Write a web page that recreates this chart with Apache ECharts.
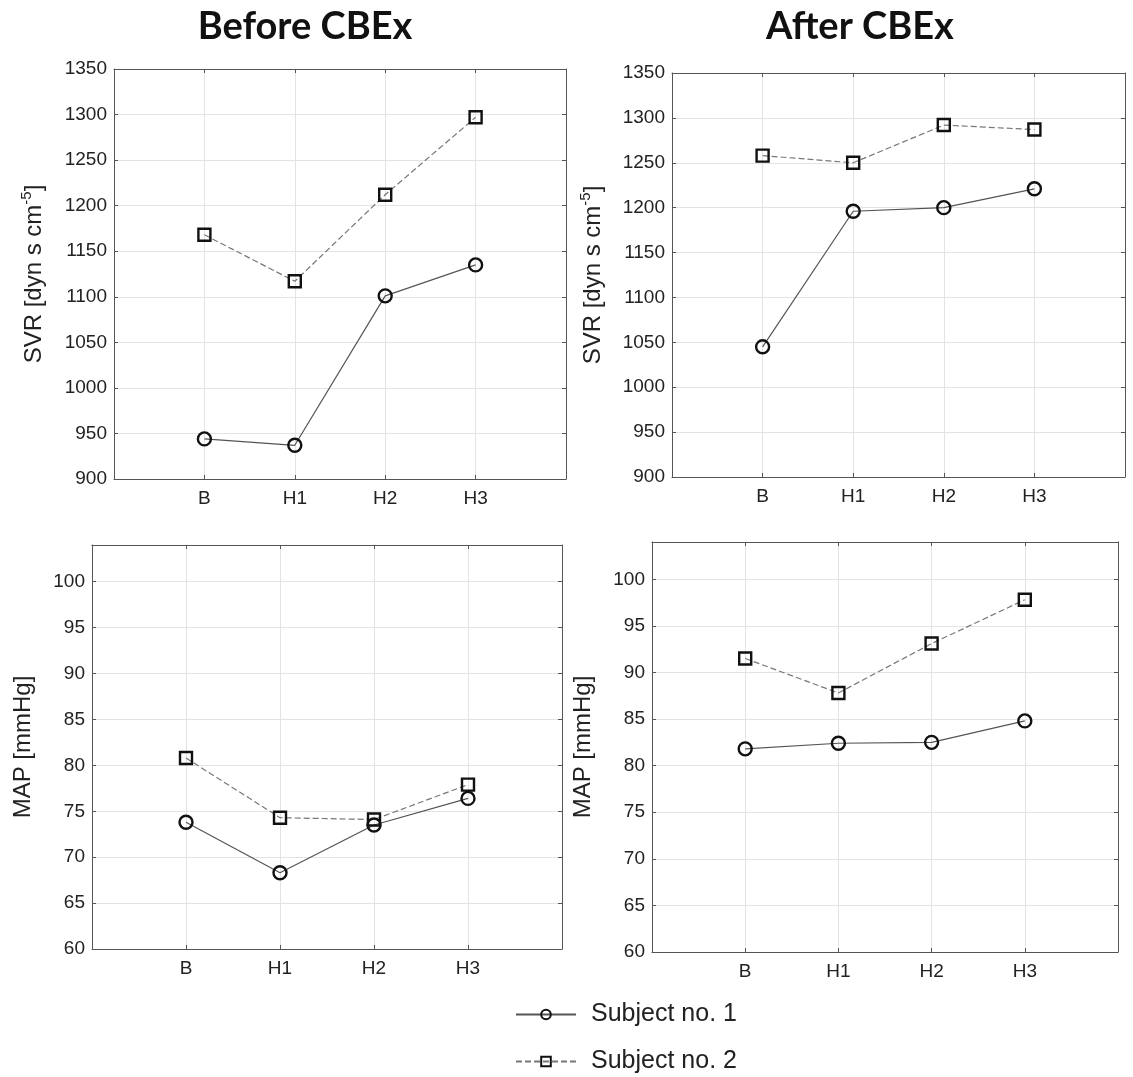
<!DOCTYPE html>
<html><head><meta charset="utf-8">
<script src="https://cdn.jsdelivr.net/npm/echarts/dist/echarts.min.js"></script>
<style>html,body{margin:0;padding:0;background:#fff}#c{width:1133px;height:1077px}</style>
</head><body><div id="c"></div><script>
// ---- data ----
const cats = ['B', 'H1', 'H2', 'H3'];
const svrBefore1 = [944, 937, 1101, 1135];
const svrBefore2 = [1168, 1117, 1212, 1297];
const svrAfter1 = [1045, 1196, 1200, 1221];
const svrAfter2 = [1258, 1250, 1292, 1287];
const mapBefore1 = [73.8, 68.3, 73.5, 76.4];
const mapBefore2 = [80.8, 74.3, 74.1, 77.9];
const mapAfter1 = [81.8, 82.4, 82.5, 84.8];
const mapAfter2 = [91.5, 87.8, 93.1, 97.8];
const seriesNames = ['Subject no. 1', 'Subject no. 2'];
const titles = ['Before CBEx', 'After CBEx'];
const svrName = '{a|SVR [dyn s cm}{s|-5}{a|]}';
const mapName = '{a|MAP [mmHg]}';

// ---- layout ----
const FONT = '"Liberation Sans", Arial, sans-serif';
const panels = [
  {grid:{left:114, top:69, width:452, height:410}, y:{min:900, max:1350, interval:50}, name:svrName, nameGap:65, s1:svrBefore1, s2:svrBefore2},
  {grid:{left:672, top:73, width:453, height:404}, y:{min:900, max:1350, interval:50}, name:svrName, nameGap:64, s1:svrAfter1, s2:svrAfter2},
  {grid:{left:92, top:545, width:470, height:404}, y:{min:60, max:104, interval:5}, name:mapName, nameGap:54, s1:mapBefore1, s2:mapBefore2},
  {grid:{left:652, top:542, width:466, height:410}, y:{min:60, max:104, interval:5}, name:mapName, nameGap:54, s1:mapAfter1, s2:mapAfter2}
];

const axisLineStyle = {color:'#555', width:1};
const tickStyle = {show:true, inside:true, length:4, lineStyle:{color:'#555', width:1}};
const gridLineStyle = {color:'#e3e3e3', width:1};
const nameRich = {
  a:{fontSize:24, lineHeight:30, color:'#222', fontFamily:FONT},
  s:{fontSize:15, lineHeight:14, verticalAlign:'top', color:'#222', fontFamily:FONT}
};

const grid = [], xAxis = [], yAxis = [], series = [];
panels.forEach((p, i) => {
  grid.push(Object.assign({outerBoundsMode:'none', containLabel:false}, p.grid));
  xAxis.push({
    type:'value', gridIndex:i, min:0, max:5, interval:1, position:'bottom',
    axisLine:{show:true, onZero:false, lineStyle:axisLineStyle},
    axisTick:tickStyle,
    axisLabel:{margin:10, fontSize:19, color:'#222', fontFamily:FONT, formatter:v => cats[v - 1] || ''},
    splitLine:{show:true, lineStyle:gridLineStyle}
  });
  xAxis.push({
    type:'value', gridIndex:i, min:0, max:5, interval:1, position:'top',
    axisLine:{show:true, onZero:false, lineStyle:axisLineStyle},
    axisTick:tickStyle, axisLabel:{show:false}, splitLine:{show:false}
  });
  yAxis.push({
    type:'value', gridIndex:i, min:p.y.min, max:p.y.max, interval:p.y.interval, position:'left',
    name:p.name, nameLocation:'middle', nameGap:p.nameGap,
    nameTextStyle:{fontSize:24, color:'#222', fontFamily:FONT, rich:nameRich},
    axisLine:{show:true, onZero:false, lineStyle:axisLineStyle},
    axisTick:tickStyle,
    axisLabel:{margin:7, fontSize:19, color:'#222', fontFamily:FONT,
      formatter:v => (v % p.y.interval === 0 ? String(v) : '')},
    splitLine:{show:true, lineStyle:gridLineStyle}
  });
  yAxis.push({
    type:'value', gridIndex:i, min:p.y.min, max:p.y.max, interval:p.y.interval, position:'right',
    axisLine:{show:true, onZero:false, lineStyle:axisLineStyle},
    axisTick:tickStyle, axisLabel:{show:false}, splitLine:{show:false}
  });
  series.push({
    name:seriesNames[0], type:'line', xAxisIndex:2*i, yAxisIndex:2*i,
    data:p.s1.map((v, k) => [k + 1, v]),
    symbol:'circle', symbolSize:13,
    lineStyle:{color:'#555', width:1.2, type:'solid'},
    itemStyle:{color:'rgba(255,255,255,0)', borderColor:'#111', borderWidth:2.4},
    emphasis:{disabled:true}, z:3
  });
  series.push({
    name:seriesNames[1], type:'line', xAxisIndex:2*i, yAxisIndex:2*i,
    data:p.s2.map((v, k) => [k + 1, v]),
    symbol:'rect', symbolSize:12,
    lineStyle:{color:'#777', width:1.2, type:[6, 3]},
    itemStyle:{color:'rgba(255,255,255,0)', borderColor:'#111', borderWidth:2.4},
    emphasis:{disabled:true}, z:3
  });
});

const chart = echarts.init(document.getElementById('c'), null, {renderer:'canvas'});
chart.setOption({
  animation:false,
  backgroundColor:'#fff',
  grid, xAxis, yAxis, series,
  legend:{
    data:seriesNames, orient:'vertical', left:515, top:1002, height:74,
    itemWidth:60, itemHeight:12, itemGap:22, padding:0,
    textStyle:{fontSize:25, color:'#222', fontFamily:FONT, lineHeight:25, padding:[0,0,0,10]},
    selectedMode:false
  },
  graphic:[
    {type:'text', x:305, y:8, style:{text:titles[0], font:'bold 38px Lato', fill:'#111', textAlign:'center', align:'center', textVerticalAlign:'top', verticalAlign:'top'}},
    {type:'text', x:860, y:8, style:{text:titles[1], font:'bold 38px Lato', fill:'#111', textAlign:'center', align:'center', textVerticalAlign:'top', verticalAlign:'top'}}
  ]
});
</script></body></html>
